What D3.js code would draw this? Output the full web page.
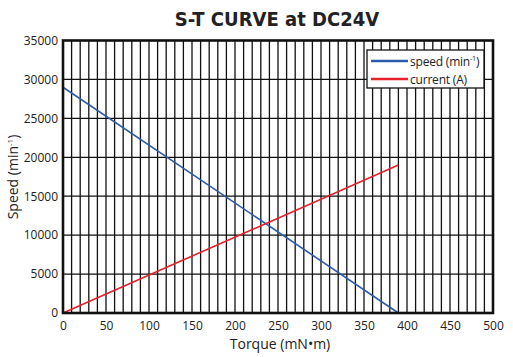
<!DOCTYPE html>
<html><head><meta charset="utf-8">
<script src="https://cdn.jsdelivr.net/npm/d3@7"></script>
<style>body{margin:0;background:#fff}svg{display:block}</style>
</head><body>
<svg id="c" width="513" height="357"></svg>
<script>
const torque = [0, 390];
const speed = [29000, 0];
const current = [0, 19000];
const xTicks = [0,50,100,150,200,250,300,350,400,450,500];
const yTicks = [0,5000,10000,15000,20000,25000,30000,35000];
const seriesNames = ["speed (min", "current (A)"];

const svg = d3.select("#c");
const L=63, R=493, T=40.5, B=313;
const x = d3.scaleLinear().domain([0,500]).range([L,R]);
const y = d3.scaleLinear().domain([0,35000]).range([B,T]);
const font = "'Open Sans', sans-serif";

// grid
const g = svg.append("g");
g.selectAll("line.v").data(d3.range(10,500,10)).enter().append("line")
  .attr("x1",d=>x(d)).attr("x2",d=>x(d)).attr("y1",T).attr("y2",B)
  .attr("stroke","#111").attr("stroke-width",1.3);
g.selectAll("line.h").data(yTicks.slice(1,-1)).enter().append("line")
  .attr("x1",L).attr("x2",R).attr("y1",d=>y(d)).attr("y2",d=>y(d))
  .attr("stroke","#111").attr("stroke-width",1.3);

// axes labels
const xa = svg.append("g").attr("transform",`translate(0,${B})`)
  .call(d3.axisBottom(x).tickValues(xTicks).tickSize(0).tickPadding(8));
xa.select(".domain").remove();
xa.selectAll("text").attr("font-family",font).attr("font-size",12).attr("fill","#222");
const ya = svg.append("g").attr("transform",`translate(${L},0)`)
  .call(d3.axisLeft(y).tickValues(yTicks).tickSize(0).tickPadding(5).tickFormat(d3.format("d")));
ya.select(".domain").remove();
ya.selectAll("text").attr("font-family",font).attr("font-size",12).attr("fill","#222");

// lines
const line = d3.line().x(d=>x(d[0])).y(d=>y(d[1]));
svg.append("path").attr("d",line(torque.map((t,i)=>[t,speed[i]])))
  .attr("stroke","#2d5ca8").attr("stroke-width",1.6).attr("fill","none");
svg.append("path").attr("d",line(torque.map((t,i)=>[t,current[i]])))
  .attr("stroke","#e8202a").attr("stroke-width",1.6).attr("fill","none");

// border
svg.append("rect").attr("x",L).attr("y",T).attr("width",R-L).attr("height",B-T)
  .attr("fill","none").attr("stroke","#111").attr("stroke-width",2.6);

// legend
const lg = svg.append("g");
lg.append("rect").attr("x",367).attr("y",50).attr("width",117).attr("height",38)
  .attr("fill","#fff").attr("stroke","#111").attr("stroke-width",1.3);
const cols = ["#2d5ca8","#e8202a"];
seriesNames.forEach((n,i)=>{
  const yy = 61 + i*18;
  lg.append("line").attr("x1",371).attr("x2",408).attr("y1",yy).attr("y2",yy)
    .attr("stroke",cols[i]).attr("stroke-width",2.6);
  const t = lg.append("text").attr("x",410).attr("y",yy+4.5).attr("font-family",font)
    .attr("font-size",12).attr("letter-spacing",-0.2).attr("fill","#222").text(n);
  if(i===0){
    t.append("tspan").attr("dy",-5).attr("font-size",7).text("-1");
    t.append("tspan").attr("dy",5).text(")");
  }
});

// titles
svg.append("text").attr("x",277).attr("y",26).attr("text-anchor","middle")
  .attr("font-family","'DejaVu Sans Condensed', 'DejaVu Sans', sans-serif").attr("font-weight","bold")
  .attr("font-size",20).attr("fill","#222").text("S-T CURVE at DC24V");
svg.append("text").attr("x",280).attr("y",349).attr("text-anchor","middle")
  .attr("font-family",font).attr("font-size",14).attr("fill","#222").text("Torque (mN\u2022m)");
const yt = svg.append("text").attr("transform","translate(18,177) rotate(-90)").attr("text-anchor","middle")
  .attr("font-family",font).attr("font-size",14).attr("fill","#222").text("Speed (min");
yt.append("tspan").attr("dy",-5).attr("font-size",8).text("-1");
yt.append("tspan").attr("dy",5).text(")");
</script>
</body></html>
